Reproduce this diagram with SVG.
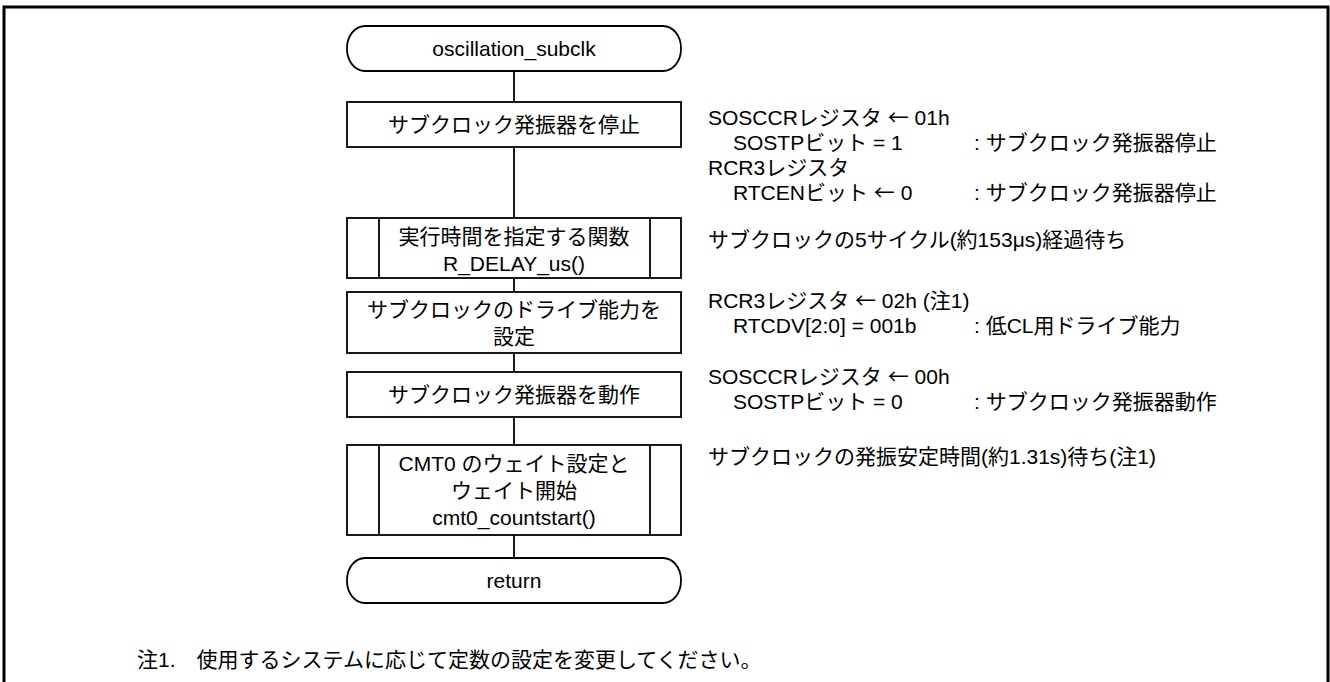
<svg xmlns="http://www.w3.org/2000/svg" width="1330" height="682" viewBox="0 0 1330 682">
<style>
.t{font-family:"Liberation Sans","Noto Sans CJK JP",sans-serif;font-size:21px;fill:#000}
.a{font-family:"Noto Sans CJK JP",sans-serif}
.m{text-anchor:middle}
.s{fill:#fff;stroke:#000;stroke-width:1.8}
.c{stroke:#000;stroke-width:1.8;fill:none}
</style>
<rect width="1330" height="682" fill="#fff"/>
<path d="M4,690 V7 H1328 V690" fill="none" stroke="#000" stroke-width="3"/>
<g id="connectors">
<path class="c" d="M514,71 V102 M514,147 V218 M514,278 V292 M514,353 V372 M514,417 V445 M514,535 V558"/>
</g>
<g id="start">
<rect class="s" x="347" y="26" width="334" height="45" rx="18" ry="22"/>
<text class="t m" x="514" y="56">oscillation_subclk</text>
</g>
<g id="stop">
<rect class="s" x="347" y="102" width="334" height="45"/>
<text class="t m" x="514" y="132">サブクロック発振器を停止</text>
</g>
<g id="delay">
<rect class="s" x="347" y="218" width="334" height="60"/>
<path class="c" d="M379,218 V278 M650,218 V278"/>
<text class="t m" x="514" y="244">実行時間を指定する関数</text>
<text class="t m" x="514" y="271">R_DELAY_us()</text>
</g>
<g id="drive">
<rect class="s" x="347" y="292" width="334" height="61"/>
<text class="t m" x="514" y="317">サブクロックのドライブ能力を</text>
<text class="t m" x="514" y="344">設定</text>
</g>
<g id="run">
<rect class="s" x="347" y="372" width="334" height="45"/>
<text class="t m" x="514" y="402">サブクロック発振器を動作</text>
</g>
<g id="cmt">
<rect class="s" x="347" y="445" width="334" height="90"/>
<path class="c" d="M379,445 V535 M650,445 V535"/>
<text class="t m" x="514" y="471">CMT0 のウェイト設定と</text>
<text class="t m" x="514" y="498">ウェイト開始</text>
<text class="t m" x="514" y="525">cmt0_countstart()</text>
</g>
<g id="end">
<rect class="s" x="347" y="558" width="334" height="45" rx="18" ry="22"/>
<text class="t m" x="514" y="588">return</text>
</g>
<g id="notes">
<text class="t" x="708" y="125">SOSCCRレジスタ <tspan class="a">←</tspan>  01h</text>
<text class="t" x="733" y="150">SOSTPビット = 1</text>
<text class="t" x="974" y="150">: サブクロック発振器停止</text>
<text class="t" x="708" y="175">RCR3レジスタ</text>
<text class="t" x="733" y="200">RTCENビット <tspan class="a">←</tspan> 0</text>
<text class="t" x="974" y="200">: サブクロック発振器停止</text>
<text class="t" x="708" y="247">サブクロックの5サイクル(約153μs)経過待ち</text>
<text class="t" x="708" y="308">RCR3レジスタ <tspan class="a">←</tspan> 02h (注1)</text>
<text class="t" x="733" y="333">RTCDV[2:0] = 001b</text>
<text class="t" x="974" y="333">: 低CL用ドライブ能力</text>
<text class="t" x="708" y="384">SOSCCRレジスタ <tspan class="a">←</tspan> 00h</text>
<text class="t" x="733" y="409">SOSTPビット = 0</text>
<text class="t" x="974" y="409">: サブクロック発振器動作</text>
<text class="t" x="708" y="464">サブクロックの発振安定時間(約1.31s)待ち(注1)</text>
<text class="t" x="137" y="667">注1.　使用するシステムに応じて定数の設定を変更してください。</text>
</g>
</svg>
